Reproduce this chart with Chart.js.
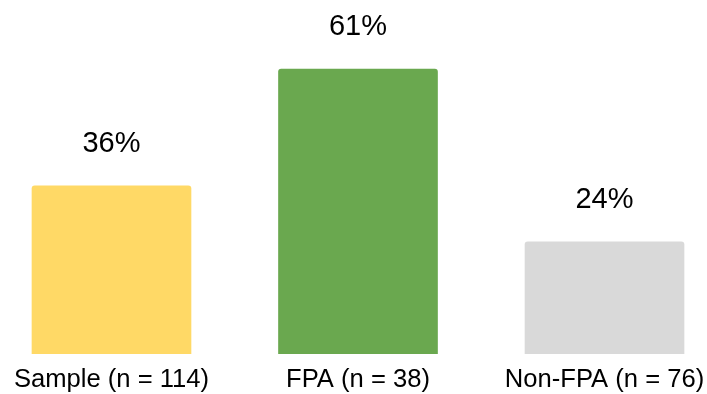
<!DOCTYPE html>
<html>
<head>
<meta charset="utf-8">
<script src="https://cdn.jsdelivr.net/npm/chart.js@4"></script>
<style>
  html, body { margin: 0; padding: 0; background: #fff; }
  #wrap { width: 707px; height: 394px; }
</style>
</head>
<body>
<div id="wrap"><canvas id="chart"></canvas></div>
<script>
const categories = ['Sample (n = 114)', 'FPA (n = 38)', 'Non-FPA (n = 76)'];
const shares = [36, 61, 24];
const barColors = ['#FFD966', '#6AA84F', '#D9D9D9'];

const FONT = "'Liberation Sans', Arial, Helvetica, sans-serif";

// percentages written over each bar
const valueLabels = {
  id: 'valueLabels',
  afterDatasetsDraw(chart) {
    const ctx = chart.ctx;
    const meta = chart.getDatasetMeta(0);
    ctx.save();
    ctx.font = '29px ' + FONT;
    ctx.fillStyle = '#000';
    ctx.textAlign = 'center';
    ctx.textBaseline = 'alphabetic';
    meta.data.forEach((bar, i) => {
      ctx.fillText(shares[i] + '%', bar.x, bar.y - 34);
    });
    ctx.restore();
  }
};

new Chart(document.getElementById('chart'), {
  type: 'bar',
  data: {
    datasets: [{
      data: categories.map((c, i) => ({ x: i, y: shares[i] })),
      backgroundColor: barColors,
      barThickness: 159,
      borderRadius: { topLeft: 3, topRight: 3 },
      borderSkipped: 'start'
    }]
  },
  options: {
    responsive: true,
    maintainAspectRatio: false,
    animation: false,
    layout: { padding: 0 },
    plugins: { legend: { display: false }, tooltip: { enabled: false } },
    scales: {
      x: {
        type: 'linear',
        offset: false,
        min: -0.4523,
        max: 2.4158,
        grid: { display: false, drawTicks: false },
        border: { display: false },
        afterBuildTicks: scale => { scale.ticks = categories.map((c, i) => ({ value: i })); },
        // fixed axis band so the bars sit on y = 354
        afterFit: scale => {
          scale.height = 40;
          scale.paddingLeft = 0;
          scale.paddingRight = 0;
        },
        ticks: {
          padding: 11,
          autoSkip: false,
          maxRotation: 0,
          color: '#000',
          font: { family: FONT, size: 25.6 },
          callback: v => categories[v]
        }
      },
      y: {
        display: false,
        min: 0,
        max: 75.8
      }
    }
  },
  plugins: [valueLabels]
});
</script>
</body>
</html>
